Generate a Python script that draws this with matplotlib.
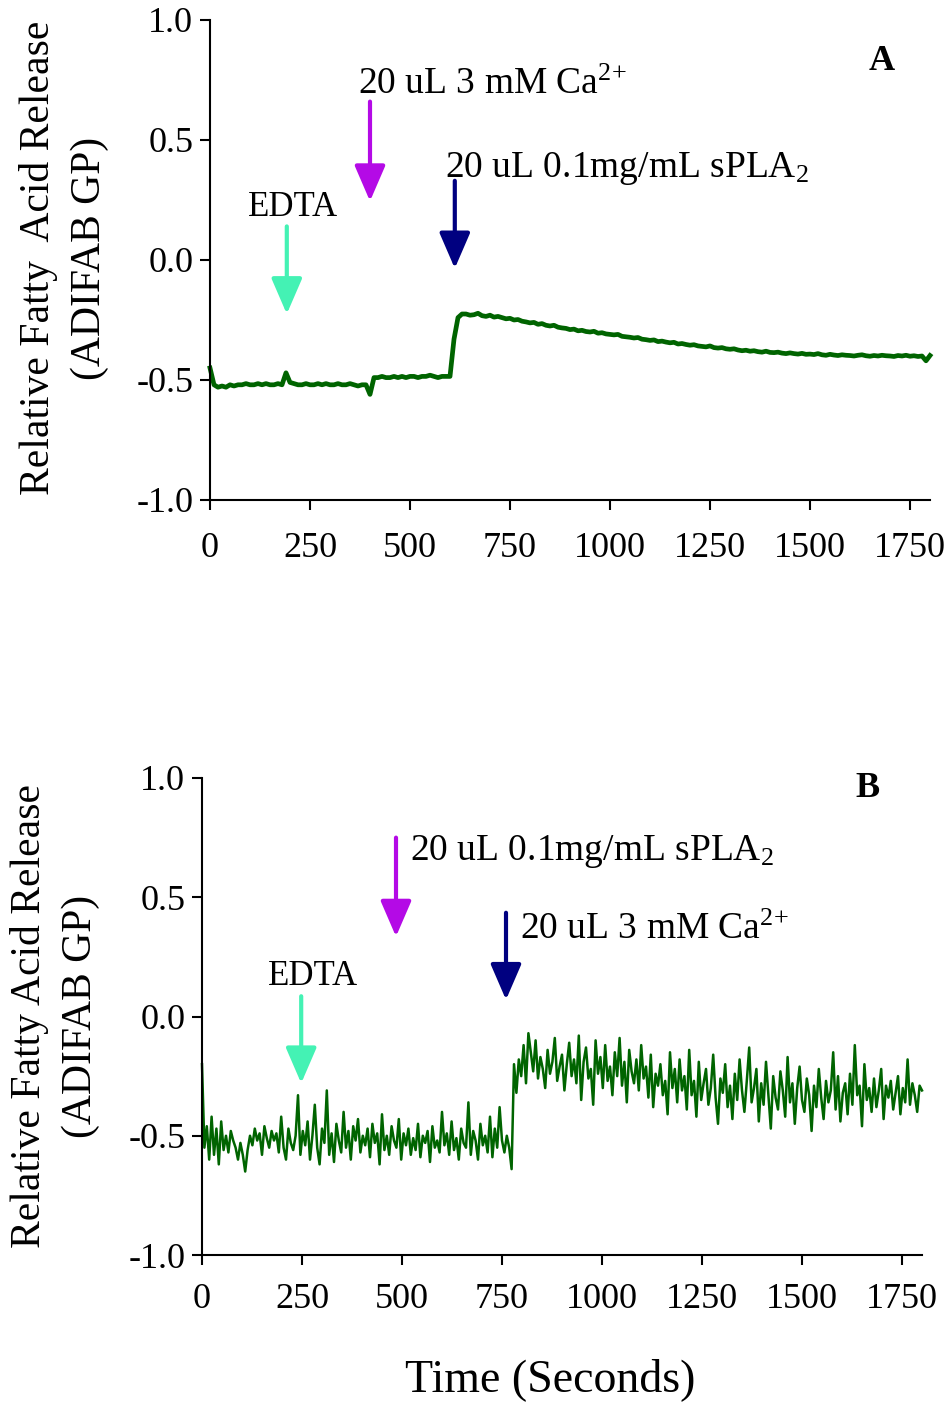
import numpy as np
import matplotlib
matplotlib.use("Agg")
import matplotlib.pyplot as plt
from matplotlib.patches import ArrowStyle

plt.rcParams['font.family'] = ['Liberation Serif', 'DejaVu Serif']
plt.rcParams['mathtext.fontset'] = 'custom'
plt.rcParams['mathtext.rm'] = 'Liberation Serif'
plt.rcParams['mathtext.it'] = 'Liberation Serif:italic'
plt.rcParams['mathtext.bf'] = 'Liberation Serif:bold'

# ---------------- data ----------------
dt_a = 10  # seconds between samples, panel A
values_a = [
    -0.45,
    -0.52, -0.53, -0.525, -0.53, -0.52, -0.525, -0.52, -0.52, -0.515, -0.52,
    -0.52, -0.515, -0.52, -0.515, -0.52, -0.52, -0.515, -0.52,
    -0.47, -0.51,
    -0.515, -0.52, -0.52, -0.515, -0.52, -0.52, -0.515, -0.52, -0.515, -0.52,
    -0.52, -0.515, -0.52, -0.52, -0.515, -0.52, -0.525, -0.52,
    -0.52, -0.56, -0.49,
    -0.49, -0.485, -0.49, -0.49, -0.485, -0.49, -0.485, -0.49, -0.485, -0.485,
    -0.49, -0.485, -0.485, -0.48, -0.485, -0.49, -0.485, -0.485, -0.485,
    -0.33, -0.24, -0.225,
    -0.225, -0.23, -0.228, -0.222, -0.232, -0.235, -0.23,
    -0.238, -0.235, -0.24, -0.245, -0.243, -0.25, -0.248, -0.255, -0.258, -0.262,
    -0.26, -0.268, -0.265, -0.272, -0.275, -0.272, -0.28, -0.283, -0.285, -0.29,
    -0.288, -0.295, -0.293, -0.298, -0.3, -0.297, -0.305, -0.303, -0.308, -0.31,
    -0.312, -0.31, -0.318, -0.32, -0.322, -0.325, -0.323, -0.33, -0.332, -0.335,
    -0.333, -0.34, -0.338, -0.342, -0.345, -0.343, -0.35, -0.348, -0.352, -0.355,
    -0.353, -0.358, -0.36, -0.362, -0.358, -0.365, -0.367, -0.365, -0.37, -0.372,
    -0.37, -0.375, -0.378, -0.376, -0.38, -0.378, -0.382, -0.384, -0.38, -0.385,
    -0.386, -0.384, -0.388, -0.39, -0.387, -0.39, -0.392, -0.389, -0.393, -0.392,
    -0.394, -0.39, -0.395, -0.397, -0.393, -0.396, -0.398, -0.395, -0.397, -0.398,
    -0.4, -0.397, -0.395, -0.399, -0.401, -0.398, -0.4, -0.397, -0.399, -0.4,
    -0.402, -0.398, -0.4, -0.397, -0.401, -0.399, -0.402, -0.4, -0.42, -0.398,
]

dt_b = 6  # seconds between samples, panel B
values_b = [
    -0.20, -0.55, -0.46, -0.60, -0.42, -0.58, -0.47, -0.62, -0.44, -0.56,
    -0.50, -0.57, -0.48, -0.52, -0.55, -0.60, -0.53, -0.58, -0.65, -0.56,
    -0.50, -0.54, -0.47, -0.52, -0.49, -0.58, -0.46, -0.51, -0.55, -0.48,
    -0.52, -0.49, -0.57, -0.42, -0.55, -0.60, -0.47, -0.53, -0.56, -0.50,
    -0.33, -0.58, -0.48, -0.54, -0.44, -0.60, -0.50, -0.37, -0.55, -0.62,
    -0.47, -0.53, -0.31, -0.58, -0.49, -0.61, -0.45, -0.52, -0.57, -0.40,
    -0.55, -0.48, -0.60, -0.46, -0.52, -0.43, -0.57, -0.50, -0.54, -0.47,
    -0.59, -0.45, -0.53, -0.49, -0.62, -0.41, -0.56, -0.50, -0.58, -0.46,
    -0.52, -0.55, -0.43, -0.60, -0.49, -0.54, -0.47, -0.58, -0.51, -0.56,
    -0.45, -0.59, -0.50, -0.53, -0.48, -0.61, -0.46, -0.55, -0.52, -0.57,
    -0.40, -0.54, -0.49, -0.58, -0.44, -0.56, -0.51, -0.60, -0.47, -0.53,
    -0.55, -0.36, -0.58, -0.48, -0.52, -0.60, -0.45, -0.54, -0.50, -0.57,
    -0.42, -0.59, -0.47, -0.55, -0.38, -0.52, -0.57, -0.50, -0.55, -0.64,
    -0.20, -0.32, -0.18, -0.25, -0.12, -0.28, -0.07, -0.15, -0.23, -0.10,
    -0.26, -0.17, -0.22, -0.30, -0.14, -0.24, -0.19, -0.09, -0.27, -0.21,
    -0.16, -0.31, -0.20, -0.11, -0.25, -0.18, -0.28, -0.08, -0.35, -0.19,
    -0.13, -0.26, -0.22, -0.37, -0.10, -0.24, -0.17, -0.30, -0.12, -0.27,
    -0.21, -0.33, -0.15, -0.25, -0.09, -0.29, -0.19, -0.36, -0.14, -0.23,
    -0.28, -0.18, -0.31, -0.12, -0.26, -0.21, -0.34, -0.16, -0.38, -0.24,
    -0.29, -0.20, -0.33, -0.27, -0.41, -0.15, -0.30, -0.22, -0.36, -0.18,
    -0.31, -0.25, -0.39, -0.14, -0.33, -0.27, -0.42, -0.19, -0.35, -0.28,
    -0.22, -0.37, -0.30, -0.16, -0.34, -0.45, -0.26, -0.32, -0.20, -0.38,
    -0.29, -0.43, -0.24, -0.35, -0.18, -0.31, -0.40, -0.27, -0.13, -0.36,
    -0.30, -0.22, -0.44, -0.28, -0.37, -0.19, -0.33, -0.47, -0.25, -0.34,
    -0.39, -0.23, -0.31, -0.42, -0.17, -0.36, -0.28, -0.45, -0.30, -0.21,
    -0.35, -0.40, -0.26, -0.33, -0.48, -0.29, -0.38, -0.22, -0.34, -0.43,
    -0.27, -0.36, -0.31, -0.15, -0.39, -0.25, -0.44, -0.32, -0.28, -0.41,
    -0.24, -0.37, -0.12, -0.33, -0.29, -0.46, -0.20, -0.35, -0.30, -0.40,
    -0.26, -0.38, -0.31, -0.22, -0.43, -0.29, -0.34, -0.27, -0.39, -0.32,
    -0.25, -0.41, -0.30, -0.36, -0.18, -0.37, -0.28, -0.33, -0.40, -0.29,
    -0.31,
]

x_ticks = [0, 250, 500, 750, 1000, 1250, 1500, 1750]
y_ticks = [-1.0, -0.5, 0.0, 0.5, 1.0]
y_tick_labels = ['-1.0', '-0.5', '0.0', '0.5', '1.0']

# arrows: (label, arrow x, arrow tail y, arrow tip y, color)
arrows_a = [
    ('EDTA', 192, 0.14, -0.225, '#44F2B4'),
    ('Ca', 400, 0.66, 0.245, '#B40AE6'),
    ('PLA', 612, 0.33, -0.035, '#000080'),
]
arrows_b = [
    ('EDTA', 248, 0.085, -0.28, '#44F2B4'),
    ('PLA', 485, 0.75, 0.335, '#B40AE6'),
    ('Ca', 760, 0.435, 0.07, '#000080'),
]
texts_a = [
    ('EDTA', 207, 0.183, 'center', 25),
    (r'20 uL 3 mM Ca$^{2{+}}$', 370, 0.69, 'left', 27),
    (r'20 uL 0.1mg/mL sPLA$_{2}$', 587, 0.345, 'left', 27),
]
texts_b = [
    ('EDTA', 277, 0.134, 'center', 25),
    (r'20 uL 0.1mg/mL sPLA$_{2}$', 520, 0.658, 'left', 27),
    (r'20 uL 3 mM Ca$^{2{+}}$', 795, 0.323, 'left', 27),
]

line_color = '#006400'

# ---------------- figure ----------------
W, H = 950, 1403
fig = plt.figure(figsize=(W / 100, H / 100), dpi=100)

axA = fig.add_axes([210 / W, 1 - 500 / H, 720 / W, 480 / H])
axB = fig.add_axes([202 / W, 1 - 1255 / H, 720 / W, 477 / H])

ta = np.arange(len(values_a)) * dt_a
tb = np.arange(len(values_b)) * dt_b
axA.plot(ta, values_a, color=line_color, lw=3.4, solid_joinstyle='round', clip_on=False)
axB.plot(tb, values_b, color=line_color, lw=1.8, clip_on=False)


def style(ax, xpad):
    ax.set_xlim(0, 1800)
    ax.set_ylim(-1.0, 1.0)
    for s in ['top', 'right']:
        ax.spines[s].set_visible(False)
    for s in ['left', 'bottom']:
        ax.spines[s].set_linewidth(1.5)
    ax.set_xticks(x_ticks)
    ax.set_xticklabels([str(v) for v in x_ticks])
    ax.set_yticks(y_ticks)
    ax.set_yticklabels(y_tick_labels)
    ax.tick_params(direction='out', length=7, width=1.5, labelsize=26, pad=5)
    ax.tick_params(axis='x', pad=xpad)


style(axA, 16)
style(axB, 13)


def draw_arrows(ax, arrows):
    for _, x, y0, y1, c in arrows:
        st = ArrowStyle('-|>', head_length=22, head_width=9.5)
        ax.annotate('', xy=(x, y1), xytext=(x, y0),
                    arrowprops=dict(arrowstyle=st, mutation_scale=1, color=c,
                                    lw=3, shrinkA=0, shrinkB=0))


draw_arrows(axA, arrows_a)
draw_arrows(axB, arrows_b)

for ax, texts in [(axA, texts_a), (axB, texts_b)]:
    for s, x, y, ha, fs in texts:
        ax.text(x, y, s, ha=ha, va='baseline', fontsize=fs)

axA.text(0.933, 0.9125, 'A', transform=axA.transAxes, ha='center', va='center',
         fontsize=26, fontweight='bold')
axB.text(0.925, 0.979, 'B', transform=axB.transAxes, ha='center', va='center',
         fontsize=26, fontweight='bold')

fig.text(64 / W, 1 - 258 / H, 'Relative Fatty  Acid Release\n(ADIFAB GP)',
         rotation=90, ha='center', va='center', fontsize=30, linespacing=1.4,
         multialignment='center')
fig.text(55 / W, 1 - 1016 / H, 'Relative Fatty Acid Release\n(ADIFAB GP)',
         rotation=90, ha='center', va='center', fontsize=30, linespacing=1.4,
         multialignment='center')
fig.text(550 / W, 1 - 1380 / H, 'Time (Seconds)', ha='center', va='center',
         fontsize=33)

fig.savefig('out.png', dpi=100)
